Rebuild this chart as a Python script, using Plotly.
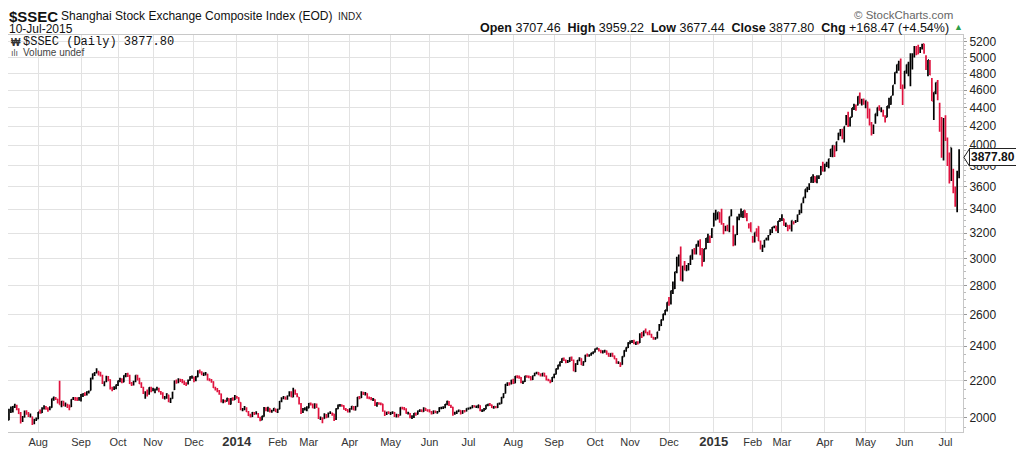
import math
import pandas as pd
import plotly.graph_objects as go

# SSE closed days (besides weekends) inside the window
holidays = [
    "2013-09-19", "2013-09-20", "2013-10-01", "2013-10-02", "2013-10-03", "2013-10-04", "2013-10-07",
    "2014-01-01", "2014-01-31", "2014-02-03", "2014-02-04", "2014-02-05", "2014-02-06",
    "2014-04-07", "2014-05-01", "2014-05-02", "2014-06-02", "2014-09-08",
    "2014-10-01", "2014-10-02", "2014-10-03", "2014-10-06", "2014-10-07",
    "2015-01-01", "2015-01-02", "2015-02-18", "2015-02-19", "2015-02-20", "2015-02-23", "2015-02-24",
    "2015-04-06", "2015-05-01", "2015-06-22",
]

# daily bars, one line per month (Jul 2013 .. Jul 2015)
opens = [
    1990, 2036, 2035, 2058, 2064, 2042, 2024, 1986, 2005, 2030, 2018, 2012, 2005, 1977, 1990,
    1996, 2029, 2027, 2048, 2058, 2045, 2045, 2055, 2100, 2105, 2097, 2078, 2061, 2085, 2068, 2067, 2065, 2058, 2098, 2101, 2099, 2100,
    2096, 2120, 2124, 2122, 2135, 2145, 2213, 2235, 2244, 2248, 2240, 2225, 2183, 2195, 2218, 2203, 2150, 2156, 2160,
    2174, 2199, 2206, 2192, 2224, 2237, 2228, 2180, 2180, 2195, 2226, 2208, 2180, 2160, 2128, 2134, 2128, 2158,
    2145, 2145, 2150, 2155, 2136, 2128, 2104, 2108, 2120, 2085, 2102, 2150, 2194, 2190, 2204, 2199, 2195, 2182, 2182, 2202, 2220,
    2215, 2205, 2222, 2250, 2246, 2236, 2238, 2235, 2203, 2200, 2193, 2158, 2150, 2142, 2125, 2082, 2090, 2088, 2100, 2072, 2100, 2096,
    2112, 2105, 2080, 2040, 2046, 2050, 2030, 2014, 2008, 2026, 2024, 2020, 2002, 1990, 2008, 2050, 2040, 2048, 2032, 2040, 2045,
    2030, 2046, 2087, 2102, 2108, 2100, 2117, 2135, 2110, 2140, 2126, 2108, 2072, 2030, 2046, 2045,
    2052, 2072, 2070, 2052, 2070, 2050, 1996, 1998, 1998, 2015, 2005, 2025, 2023, 2020, 1995, 2048, 2065, 2066, 2062, 2044, 2042,
    2032, 2048, 2058, 2042, 2060, 2108, 2106, 2130, 2128, 2128, 2104, 2104, 2096, 2095, 2065, 2076, 2074, 2072, 2034, 2020, 2028,
    2025, 2026, 2027, 2010, 2014, 2015, 2052, 2050, 2046, 2024, 2022, 2004, 2007, 2022, 2020, 2036, 2040, 2034, 2049, 2040,
    2040, 2032, 2024, 2034, 2030, 2032, 2052, 2052, 2054, 2070, 2085, 2064, 2055, 2022, 2026, 2034, 2038, 2025, 2036, 2036,
    2048, 2050, 2053, 2062, 2058, 2058, 2064, 2038, 2038, 2046, 2066, 2070, 2066, 2052, 2058, 2055, 2074, 2076, 2106, 2130, 2178, 2182, 2182,
    2200, 2186, 2224, 2220, 2216, 2188, 2195, 2224, 2220, 2220, 2206, 2228, 2240, 2244, 2236, 2228, 2240, 2224, 2204, 2200, 2195,
    2218, 2236, 2266, 2286, 2306, 2326, 2315, 2306, 2310, 2330, 2314, 2252, 2294, 2316, 2326, 2288, 2308, 2346, 2344, 2348, 2358,
    2366, 2384, 2384, 2372, 2366, 2366, 2370, 2354, 2340, 2356, 2340, 2324, 2302, 2300, 2292, 2338, 2372, 2392,
    2420, 2428, 2432, 2416, 2424, 2422, 2474, 2466, 2494, 2484, 2490, 2472, 2454, 2448, 2452, 2500, 2530, 2566, 2604, 2630,
    2690, 2680, 2764, 2780, 2920, 2946, 3030, 2850, 2930, 2925, 2936, 2960, 3020, 3060, 3055, 3110, 3130, 3035, 2980, 3075, 3165, 3160, 3170,
    3258, 3330, 3344, 3371, 3276, 3259, 3223, 3242, 3224, 3344, 3189, 3114, 3189, 3320, 3358, 3355, 3390, 3334, 3268, 3274,
    3148, 3142, 3230, 3253, 3120, 3065, 3090, 3148, 3155, 3186, 3208, 3250, 3256, 3220, 3298,
    3332, 3317, 3264, 3264, 3248, 3224, 3289, 3289, 3300, 3358, 3372, 3468, 3508, 3580, 3582, 3641, 3699, 3692, 3644, 3685, 3711, 3810,
    3748, 3826, 3803, 3899, 3960, 3985, 3944, 4070, 4124, 4135, 4071, 4247, 4301, 4215, 4297, 4427, 4395, 4431, 4531, 4454, 4483,
    4421, 4462, 4311, 4213, 4127, 4250, 4344, 4392, 4375, 4353, 4280, 4295, 4434, 4441, 4546, 4682, 4855, 4923, 4943, 4603,
    4633, 4844, 4924, 4915, 4974, 5045, 5112, 5049, 5098, 5144, 5174, 5004, 4890, 4930, 4689, 4471, 4604, 4711, 4399, 4289, 4006,
    4214, 4058, 3793, 3975, 3663, 3467, 3432, 3707.46,
]

highs = [
    2047, 2059, 2062, 2074, 2068, 2050, 2030, 2010, 2038, 2040, 2030, 2023, 2008, 1996, 2003,
    2031, 2043, 2055, 2066, 2062, 2055, 2060, 2102, 2112, 2110, 2100, 2198, 2088, 2090, 2080, 2073, 2070, 2097, 2110, 2109, 2108, 2110,
    2125, 2130, 2135, 2140, 2145, 2215, 2240, 2248, 2270, 2255, 2250, 2232, 2196, 2226, 2225, 2207, 2165, 2168, 2178,
    2200, 2215, 2213, 2230, 2242, 2243, 2232, 2192, 2198, 2230, 2232, 2215, 2190, 2165, 2140, 2150, 2162, 2165,
    2160, 2155, 2165, 2160, 2142, 2135, 2115, 2130, 2122, 2105, 2138, 2200, 2205, 2212, 2210, 2208, 2200, 2190, 2205, 2224, 2228,
    2222, 2225, 2258, 2262, 2252, 2245, 2248, 2238, 2212, 2208, 2196, 2165, 2158, 2148, 2128, 2098, 2095, 2106, 2103, 2104, 2108, 2120,
    2115, 2108, 2082, 2052, 2062, 2055, 2036, 2022, 2030, 2030, 2035, 2025, 2006, 2012, 2056, 2055, 2058, 2050, 2042, 2052, 2048,
    2048, 2088, 2108, 2115, 2112, 2118, 2140, 2140, 2160, 2150, 2130, 2110, 2078, 2052, 2055, 2060,
    2078, 2080, 2075, 2076, 2075, 2053, 2008, 2004, 2024, 2020, 2028, 2035, 2028, 2022, 2050, 2070, 2072, 2070, 2066, 2052, 2045,
    2050, 2062, 2062, 2062, 2110, 2115, 2140, 2138, 2136, 2130, 2112, 2110, 2104, 2098, 2082, 2082, 2080, 2074, 2038, 2032, 2034,
    2030, 2035, 2030, 2022, 2020, 2055, 2058, 2056, 2050, 2032, 2025, 2014, 2026, 2028, 2038, 2045, 2044, 2055, 2052, 2045,
    2045, 2036, 2038, 2038, 2036, 2055, 2058, 2060, 2072, 2090, 2088, 2068, 2058, 2032, 2038, 2044, 2040, 2040, 2040, 2050,
    2054, 2058, 2066, 2066, 2064, 2068, 2066, 2045, 2052, 2068, 2074, 2078, 2070, 2062, 2062, 2076, 2080, 2110, 2130, 2180, 2190, 2190, 2204,
    2210, 2225, 2230, 2228, 2220, 2198, 2226, 2230, 2228, 2224, 2228, 2244, 2250, 2248, 2240, 2242, 2244, 2228, 2210, 2204, 2220,
    2238, 2268, 2290, 2308, 2328, 2332, 2320, 2318, 2334, 2338, 2320, 2298, 2318, 2334, 2328, 2310, 2348, 2356, 2352, 2360, 2368,
    2386, 2392, 2388, 2378, 2376, 2378, 2374, 2360, 2358, 2360, 2344, 2328, 2310, 2304, 2340, 2376, 2394, 2424,
    2436, 2438, 2440, 2428, 2430, 2480, 2488, 2496, 2510, 2490, 2500, 2478, 2458, 2456, 2490, 2540, 2568, 2606, 2632, 2684,
    2720, 2765, 2830, 2900, 3012, 3030, 3092, 2945, 2980, 2950, 2966, 3022, 3070, 3080, 3110, 3140, 3150, 3080, 3075, 3160, 3195, 3180, 3240,
    3369, 3394, 3374, 3373, 3404, 3282, 3260, 3268, 3337, 3400, 3262, 3190, 3337, 3360, 3406, 3384, 3390, 3367, 3280, 3289,
    3175, 3205, 3240, 3256, 3140, 3106, 3143, 3162, 3185, 3230, 3250, 3260, 3260, 3300, 3324,
    3356, 3318, 3286, 3266, 3267, 3303, 3297, 3308, 3355, 3395, 3450, 3503, 3577, 3600, 3632, 3689, 3715, 3697, 3705, 3706, 3795, 3835,
    3817, 3835, 3866, 3961, 4000, 4000, 4036, 4129, 4169, 4170, 4195, 4318, 4356, 4294, 4398, 4444, 4436, 4529, 4572, 4500, 4505,
    4481, 4468, 4391, 4243, 4215, 4334, 4402, 4427, 4404, 4376, 4317, 4419, 4513, 4530, 4658, 4814, 4911, 4958, 4986, 4668,
    4829, 4911, 4945, 5052, 5052, 5147, 5148, 5164, 5135, 5178, 5176, 5029, 4968, 4966, 4744, 4577, 4691, 4720, 4456, 4297, 4287,
    4317, 4080, 3927, 3975, 3768, 3601, 3749, 3959.22,
]

lows = [
    1988, 2025, 2028, 2052, 2040, 2020, 1972, 1980, 2002, 2016, 2005, 2003, 1965, 1968, 1985,
    1994, 2022, 2025, 2043, 2042, 2032, 2040, 2053, 2090, 2093, 2075, 2068, 2055, 2060, 2058, 2052, 2040, 2056, 2093, 2090, 2088, 2090,
    2085, 2110, 2115, 2117, 2128, 2144, 2205, 2225, 2240, 2228, 2222, 2180, 2168, 2190, 2196, 2150, 2140, 2148, 2152,
    2170, 2190, 2185, 2190, 2218, 2220, 2180, 2170, 2172, 2190, 2200, 2180, 2158, 2125, 2100, 2112, 2122, 2135,
    2140, 2130, 2145, 2135, 2122, 2100, 2096, 2100, 2082, 2078, 2100, 2148, 2182, 2185, 2192, 2185, 2175, 2170, 2178, 2198, 2210,
    2190, 2195, 2218, 2240, 2230, 2225, 2228, 2200, 2195, 2188, 2158, 2145, 2135, 2122, 2080, 2076, 2080, 2085, 2068, 2070, 2090, 2094,
    2100, 2078, 2040, 2034, 2040, 2030, 2010, 2003, 2005, 2015, 2018, 2000, 1984, 1988, 2006, 2035, 2032, 2028, 2027, 2035, 2030,
    2025, 2045, 2082, 2098, 2095, 2095, 2112, 2108, 2108, 2122, 2108, 2070, 2020, 2025, 2038, 2035,
    2050, 2065, 2050, 2048, 2052, 1995, 1990, 1974, 1996, 1998, 2002, 2020, 2012, 1985, 1990, 2045, 2058, 2058, 2042, 2036, 2028,
    2028, 2042, 2040, 2038, 2058, 2098, 2104, 2120, 2118, 2100, 2098, 2092, 2088, 2062, 2058, 2068, 2066, 2032, 2010, 2015, 2020,
    2015, 2020, 2005, 2003, 2002, 2013, 2044, 2040, 2022, 2018, 1998, 1995, 2000, 2012, 2018, 2030, 2030, 2032, 2036, 2032,
    2028, 2018, 2020, 2024, 2022, 2030, 2045, 2046, 2050, 2066, 2062, 2052, 2012, 2016, 2020, 2030, 2018, 2022, 2028, 2033,
    2042, 2045, 2050, 2054, 2052, 2050, 2035, 2030, 2034, 2045, 2060, 2062, 2052, 2048, 2050, 2052, 2068, 2074, 2104, 2128, 2170, 2172, 2178,
    2180, 2185, 2212, 2210, 2185, 2180, 2192, 2215, 2212, 2200, 2202, 2224, 2235, 2230, 2222, 2222, 2222, 2200, 2196, 2185, 2192,
    2212, 2234, 2262, 2280, 2300, 2312, 2298, 2300, 2306, 2312, 2252, 2248, 2288, 2310, 2288, 2284, 2306, 2336, 2336, 2342, 2352,
    2362, 2378, 2368, 2358, 2356, 2360, 2348, 2336, 2336, 2336, 2322, 2296, 2294, 2276, 2290, 2336, 2366, 2390,
    2412, 2420, 2412, 2408, 2410, 2420, 2450, 2462, 2480, 2468, 2468, 2452, 2440, 2440, 2448, 2496, 2526, 2562, 2596, 2622,
    2660, 2668, 2740, 2776, 2890, 2940, 2835, 2830, 2910, 2904, 2910, 2950, 2990, 3030, 3030, 3090, 3025, 2940, 2975, 3070, 3120, 3120, 3160,
    3253, 3303, 3312, 3285, 3267, 3191, 3214, 3215, 3207, 3340, 3095, 3100, 3183, 3306, 3328, 3324, 3327, 3297, 3238, 3210,
    3122, 3124, 3172, 3136, 3068, 3050, 3084, 3140, 3140, 3185, 3200, 3240, 3215, 3200, 3292,
    3299, 3260, 3250, 3215, 3231, 3212, 3271, 3283, 3290, 3353, 3365, 3452, 3496, 3550, 3569, 3635, 3633, 3638, 3632, 3670, 3708, 3742,
    3742, 3784, 3772, 3881, 3879, 3882, 3942, 4050, 4092, 4060, 4028, 4207, 4190, 4196, 4294, 4375, 4367, 4426, 4444, 4424, 4434,
    4394, 4281, 4205, 4100, 4116, 4223, 4305, 4367, 4350, 4299, 4237, 4295, 4391, 4432, 4538, 4670, 4802, 4832, 4614, 4431,
    4616, 4797, 4766, 4647, 4850, 4998, 5029, 5040, 5057, 5103, 5048, 4842, 4767, 4780, 4476, 4264, 4552, 4483, 4140, 3875, 3848,
    4043, 3795, 3629, 3653, 3541, 3421, 3374, 3677.44,
]

closes = [
    2038, 2040, 2059, 2065, 2044, 2023, 1992, 2004, 2033, 2021, 2010, 2010, 1976, 1991, 1994,
    2030, 2029, 2050, 2061, 2047, 2044, 2052, 2101, 2106, 2100, 2081, 2069, 2086, 2071, 2072, 2064, 2057, 2096, 2103, 2101, 2098, 2098,
    2123, 2127, 2124, 2137, 2140, 2212, 2237, 2241, 2255, 2236, 2231, 2185, 2191, 2221, 2207, 2156, 2155, 2160, 2175,
    2198, 2211, 2190, 2228, 2238, 2233, 2184, 2181, 2193, 2229, 2210, 2183, 2164, 2133, 2133, 2129, 2160, 2142,
    2149, 2149, 2158, 2140, 2129, 2106, 2109, 2126, 2087, 2100, 2135, 2197, 2193, 2206, 2201, 2197, 2184, 2183, 2201, 2220, 2220,
    2207, 2222, 2251, 2250, 2238, 2238, 2238, 2205, 2203, 2197, 2160, 2151, 2143, 2128, 2085, 2090, 2088, 2102, 2073, 2101, 2097, 2116,
    2109, 2084, 2045, 2047, 2052, 2033, 2013, 2010, 2027, 2023, 2023, 2004, 1991, 2009, 2052, 2042, 2054, 2034, 2038, 2049, 2033,
    2044, 2086, 2104, 2110, 2100, 2115, 2136, 2111, 2142, 2128, 2113, 2076, 2034, 2047, 2047, 2056,
    2075, 2071, 2053, 2071, 2057, 1999, 2001, 1997, 2019, 2004, 2024, 2025, 2021, 1993, 2047, 2066, 2067, 2064, 2046, 2042, 2033,
    2047, 2060, 2043, 2059, 2109, 2105, 2134, 2130, 2131, 2106, 2105, 2098, 2098, 2066, 2078, 2074, 2073, 2036, 2021, 2029, 2026,
    2027, 2028, 2010, 2015, 2011, 2053, 2051, 2048, 2025, 2027, 2005, 2008, 2024, 2021, 2035, 2041, 2034, 2050, 2040, 2039,
    2034, 2024, 2035, 2030, 2032, 2052, 2054, 2055, 2070, 2086, 2066, 2056, 2024, 2026, 2034, 2039, 2025, 2037, 2036, 2048,
    2050, 2054, 2063, 2059, 2059, 2066, 2039, 2039, 2047, 2066, 2070, 2067, 2055, 2059, 2055, 2075, 2076, 2108, 2127, 2178, 2183, 2182, 2201,
    2186, 2223, 2222, 2218, 2189, 2194, 2224, 2222, 2221, 2207, 2226, 2240, 2245, 2238, 2229, 2240, 2225, 2205, 2201, 2195, 2217,
    2235, 2266, 2288, 2306, 2326, 2319, 2307, 2311, 2331, 2316, 2255, 2295, 2315, 2329, 2290, 2307, 2345, 2344, 2347, 2358, 2364,
    2383, 2389, 2374, 2367, 2367, 2374, 2357, 2341, 2356, 2339, 2326, 2302, 2302, 2290, 2337, 2373, 2391, 2420,
    2430, 2430, 2419, 2425, 2418, 2473, 2469, 2494, 2485, 2478, 2474, 2456, 2450, 2452, 2487, 2532, 2567, 2604, 2630, 2683,
    2680, 2763, 2779, 2900, 2938, 3020, 2856, 2940, 2926, 2938, 2953, 3022, 3061, 3057, 3108, 3128, 3032, 2977, 3073, 3157, 3168, 3166, 3235,
    3351, 3352, 3374, 3294, 3286, 3230, 3236, 3223, 3336, 3376, 3117, 3173, 3324, 3344, 3351, 3384, 3353, 3306, 3263, 3211,
    3129, 3205, 3175, 3137, 3076, 3096, 3142, 3158, 3174, 3204, 3247, 3247, 3229, 3298, 3310,
    3337, 3264, 3280, 3248, 3241, 3302, 3286, 3291, 3349, 3373, 3449, 3503, 3577, 3583, 3617, 3688, 3692, 3661, 3683, 3691, 3787, 3748,
    3811, 3826, 3864, 3961, 3995, 3958, 4035, 4122, 4135, 4085, 4195, 4287, 4218, 4294, 4398, 4415, 4394, 4527, 4476, 4476, 4442,
    4481, 4299, 4229, 4112, 4206, 4334, 4401, 4376, 4379, 4309, 4284, 4418, 4446, 4530, 4658, 4814, 4911, 4942, 4621, 4612,
    4829, 4910, 4910, 4948, 5023, 5131, 5114, 5106, 5121, 5166, 5062, 4887, 4968, 4786, 4478, 4577, 4691, 4527, 4193, 4053, 4277,
    4054, 3913, 3687, 3776, 3728, 3507, 3709.33, 3877.80,
]

price_ticks = [2000, 2200, 2400, 2600, 2800, 3000, 3200, 3400, 3600, 3800,
               4000, 4200, 4400, 4600, 4800, 5000, 5200]

RED = '#e0123e'
FONT = 'Liberation Sans, Arial, sans-serif'

days = pd.bdate_range('2013-07-11', '2015-07-10', freq='C', holidays=holidays)
dates = list(days.strftime('%Y-%m-%d'))
n = len(dates)
assert len(opens) == len(highs) == len(lows) == len(closes) == n, (n, len(opens), len(highs), len(lows), len(closes))

# StockCharts colours a bar by close vs previous close
up = [i == 0 or closes[i] >= closes[i - 1] for i in range(n)]

fig = go.Figure()
for flag, color in [(True, '#000000'), (False, RED)]:
    idx = [i for i in range(n) if up[i] == flag]
    fig.add_trace(go.Ohlc(
        x=[dates[i] for i in idx],
        open=[opens[i] for i in idx],
        high=[highs[i] for i in idx],
        low=[lows[i] for i in idx],
        close=[closes[i] for i in idx],
        increasing_line_color=color,
        decreasing_line_color=color,
        line_width=1.7,
        tickwidth=0.45,
        showlegend=False,
    ))

# month ticks at first trading day of each month
tickvals, ticktext = [], []
for i in range(1, n):
    if days[i].month != days[i - 1].month:
        tickvals.append(dates[i])
        if days[i].month == 1:
            ticktext.append('<b><span style="font-size:13px">%d</span></b>' % days[i].year)
        else:
            ticktext.append(days[i].strftime('%b'))

lo, hi = math.log10(1930), math.log10(5293)

# the page body adds an 8px offset, so the figure is 8px smaller
fig.update_layout(
    width=1016, height=446,
    margin=dict(l=0, r=61, t=27, b=22),
    paper_bgcolor='white', plot_bgcolor='white',
    font=dict(family=FONT, size=11, color='#333'),
    showlegend=False,
    xaxis=dict(
        type='category', categoryorder='array', categoryarray=dates,
        range=[-0.5, n + 1], rangeslider=dict(visible=False),
        tickmode='array', tickvals=tickvals, ticktext=ticktext,
        showgrid=True, gridcolor='#e2e2e2', gridwidth=1,
        showline=True, linecolor='#c8c8c8', linewidth=1, mirror=True,
        ticks='', tickfont=dict(size=11, color='#333'), automargin=False,
    ),
    yaxis=dict(
        type='log', side='right', range=[lo, hi],
        tickmode='array', tickvals=price_ticks, ticktext=[str(v) for v in price_ticks],
        showgrid=True, gridcolor='#e2e2e2', gridwidth=1,
        showline=True, linecolor='#c8c8c8', linewidth=1, mirror=True,
        ticks='outside', ticklen=3, tickcolor='#999',
        minor=dict(tickmode='array', tickvals=list(range(1950, 5300, 50)),
                   ticks='outside', ticklen=2, tickcolor='#bbb', showgrid=False),
        tickfont=dict(size=12, color='#222'), automargin=False,
    ),
)

# page pixel -> paper coordinates (plot area spans x 8..963, y 35..432)
def px_x(px):
    return (px - 8) / 955.0

def px_y(py):
    return (432 - py) / 397.0

last = n - 1
chg = closes[last] - closes[last - 1]
pct = chg / closes[last - 1] * 100
stats = ('<b>Open</b> %.2f  <b>High</b> %.2f  <b>Low</b> %.2f  <b>Close</b> %.2f  <b>Chg</b> %+.2f (%+.2f%%)'
         % (opens[last], highs[last], lows[last], closes[last], chg, pct))

notes = [
    dict(x=px_x(7), y=px_y(16.5), text='<b>$SSEC</b>', font=dict(size=15, color='#111'), xanchor='left'),
    dict(x=px_x(59), y=px_y(16), text='Shanghai Stock Exchange Composite Index (EOD)',
         font=dict(size=12, color='#111'), xanchor='left'),
    dict(x=px_x(336), y=px_y(16), text='INDX', font=dict(size=10, color='#222'), xanchor='left'),
    dict(x=px_x(7), y=px_y(28.5), text=days[last].strftime('%d-%b-%Y'), font=dict(size=12, color='#111'),
         xanchor='left'),
    dict(x=px_x(951), y=px_y(28), text=stats, font=dict(size=12.5, color='#111'), xanchor='right'),
    dict(x=px_x(952), y=px_y(27), text='▲', font=dict(size=9, color='#2e9e48'), xanchor='left'),
    dict(x=px_x(955), y=px_y(14.5), text='© StockCharts.com', font=dict(size=11.5, color='#666'), xanchor='right'),
    dict(x=px_x(9), y=px_y(42), text='<b>₩</b>', font=dict(size=10, color='#333'), xanchor='left'),
    dict(x=px_x(21), y=px_y(42), text='$SSEC (Daily) %.2f' % closes[last],
         font=dict(family='Liberation Mono, monospace', size=12, color='#111'), xanchor='left'),
    dict(x=px_x(9), y=px_y(53), text='ılı', font=dict(size=9, color='#555'), xanchor='left'),
    dict(x=px_x(21), y=px_y(53), text='Volume undef', font=dict(size=10, color='#444'), xanchor='left'),
]
for a in notes:
    a.update(xref='paper', yref='paper', yanchor='middle', showarrow=False)
    fig.add_annotation(**a)

# last price tag on the axis
y_tag = (math.log10(closes[last]) - lo) / (hi - lo)
fig.add_annotation(
    xref='paper', yref='paper', x=1, y=y_tag, xanchor='left', yanchor='middle', xshift=6,
    text='<b>%.2f</b>' % closes[last], showarrow=False,
    font=dict(size=12, color='#111'), bgcolor='white',
    bordercolor='#222', borderwidth=1, borderpad=1,
)
fig.add_shape(
    type='path', xref='paper', yref='paper', layer='above',
    path='M 1.0010 %.4f L 1.0068 %.4f L 1.0068 %.4f Z' % (y_tag, y_tag + 0.022, y_tag - 0.022),
    line=dict(color='#222', width=1), fillcolor='white',
)

fig.write_html('out.html')
